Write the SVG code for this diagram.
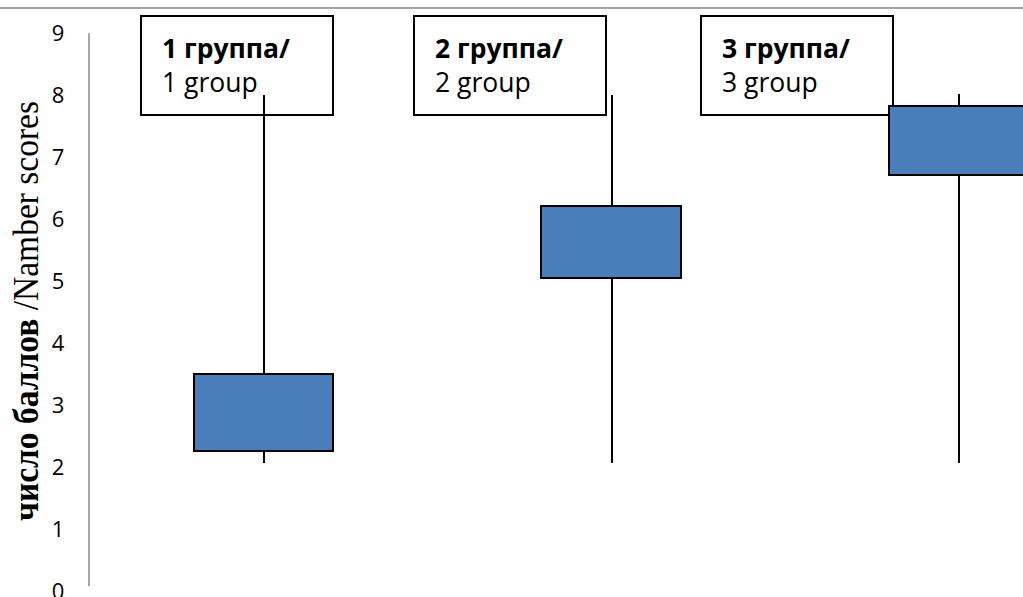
<svg xmlns="http://www.w3.org/2000/svg" width="1023" height="597" viewBox="0 0 1023 597">
<style>
.tick{font-family:"Open Sans","Liberation Sans",sans-serif;font-size:22px;fill:#000;text-anchor:middle}
.lbl{font-family:"Open Sans","Liberation Sans",sans-serif;font-size:26.5px;fill:#000}
.lbox{fill:#fff;stroke:#000;stroke-width:2}
.box{fill:#4a7ebb;stroke:#000;stroke-width:2}
.wh{stroke:#000;stroke-width:2}
.ttl{font-family:"Liberation Serif","Times New Roman",serif;font-size:36px;fill:#000}
</style>
<rect width="1023" height="597" fill="#fff"/>
<line x1="0" y1="8" x2="1023" y2="8" stroke="#888" stroke-width="1.5"/>
<line x1="89" y1="33" x2="89" y2="586" stroke="#888" stroke-width="1.5"/>
<g id="ticks">
<text class="tick" x="58" y="41">9</text>
<text class="tick" x="58" y="103">8</text>
<text class="tick" x="58" y="165">7</text>
<text class="tick" x="58" y="227">6</text>
<text class="tick" x="58" y="289">5</text>
<text class="tick" x="58" y="351">4</text>
<text class="tick" x="58" y="413">3</text>
<text class="tick" x="58" y="475">2</text>
<text class="tick" x="58" y="537">1</text>
<text class="tick" x="58" y="599">0</text>
</g>
<text class="ttl" transform="translate(38,311) rotate(-90)" text-anchor="middle" textLength="420" lengthAdjust="spacingAndGlyphs"><tspan font-weight="bold">число баллов</tspan> /Namber scores</text>
<g id="label1"><rect class="lbox" x="141" y="16" width="192" height="99"/>
<text class="lbl" x="162" y="58" font-weight="bold">1 группа/</text>
<text class="lbl" x="162" y="92">1 group</text></g>
<g id="label2"><rect class="lbox" x="414" y="16" width="192" height="99"/>
<text class="lbl" x="435" y="58" font-weight="bold">2 группа/</text>
<text class="lbl" x="435" y="92">2 group</text></g>
<g id="label3"><rect class="lbox" x="701" y="16" width="192" height="99"/>
<text class="lbl" x="722" y="58" font-weight="bold">3 группа/</text>
<text class="lbl" x="722" y="92">3 group</text></g>
<g id="connectors">
<line class="wh" x1="264" y1="95" x2="264" y2="463"/>
<line class="wh" x1="612" y1="95" x2="612" y2="463"/>
<line class="wh" x1="959" y1="94" x2="959" y2="463"/>
</g>
<g id="box1"><rect class="box" x="194" y="374" width="139" height="77"/></g>
<g id="box2"><rect class="box" x="541" y="206" width="140" height="72"/></g>
<g id="box3"><rect class="box" x="889" y="106" width="140" height="69"/></g>
</svg>
